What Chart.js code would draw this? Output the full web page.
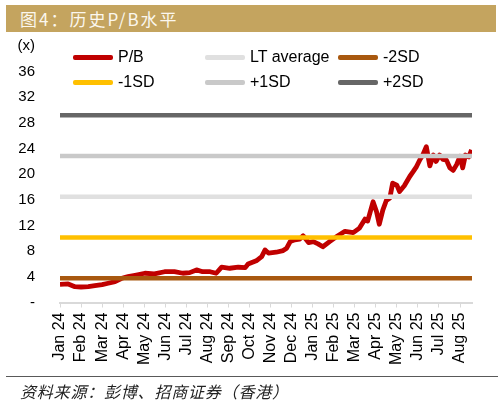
<!DOCTYPE html>
<html>
<head>
<meta charset="utf-8">
<script src="https://cdn.jsdelivr.net/npm/chart.js@4.4.1/dist/chart.umd.min.js"></script>
<style>
    body { margin: 0; background: #fff; font-family: "Liberation Sans", Arial, sans-serif; }
    #wrap { position: relative; width: 502px; height: 402px; overflow: hidden; }
    #chart { position: absolute; left: 0; top: 0; }
    #title {
        position: absolute; left: 6px; top: 5px; width: 490px; height: 27px;
        background: #c4a45f; color: #fbf7ee; font-family: "Noto Sans CJK SC", sans-serif;
        font-size: 17px; line-height: 27px; letter-spacing: 2px; padding-left: 14px; box-sizing: border-box;
    }
    #legend { position: absolute; left: 0; top: 0; width: 502px; height: 100px; pointer-events: none; }
    .item { position: absolute; height: 20px; font-size: 16px; line-height: 20px; color: #000; white-space: nowrap; }
    .item .swatch { position: absolute; left: 0; top: 8px; width: 40px; height: 4.5px; border-radius: 2px; }
    .item .label { position: absolute; left: 45px; top: 0; }
    #footer {
        position: absolute; left: 6px; top: 376px; width: 492px; border-top: 1.5px solid #595959;
        font-family: "Noto Sans CJK SC", sans-serif; font-style: italic; font-size: 16px; letter-spacing: 0.8px;
        color: #222; padding: 2px 0 0 14px; box-sizing: border-box;
    }
</style>
</head>
<body>
<div id="wrap">
    <canvas id="chart" width="502" height="402"></canvas>
    <div id="title">图4：历史P/B水平</div>
    <div id="legend"></div>
    <div id="footer">资料来源：彭博、招商证券（香港）</div>
</div>
<script>
const monthLabels = ['Jan 24', 'Feb 24', 'Mar 24', 'Apr 24', 'May 24', 'Jun 24', 'Jul 24', 'Aug 24', 'Sep 24', 'Oct 24',
    'Nov 24', 'Dec 24', 'Jan 25', 'Feb 25', 'Mar 25', 'Apr 25', 'May 25', 'Jun 25', 'Jul 25', 'Aug 25'];

const pbDates = ['2024-01-01', '2024-01-13', '2024-01-23', '2024-02-01', '2024-02-11', '2024-02-20', '2024-03-01',
    '2024-03-10', '2024-03-20', '2024-03-30', '2024-04-08', '2024-04-18', '2024-05-02', '2024-05-16', '2024-05-31',
    '2024-06-14', '2024-06-26', '2024-07-06', '2024-07-16', '2024-07-25', '2024-08-05', '2024-08-14', '2024-08-22',
    '2024-09-03', '2024-09-15', '2024-09-25', '2024-09-29', '2024-10-11', '2024-10-19', '2024-10-24', '2024-10-29',
    '2024-11-09', '2024-11-19', '2024-11-24', '2024-11-29', '2024-12-06', '2024-12-13', '2024-12-18', '2024-12-26',
    '2025-01-02', '2025-01-09', '2025-01-16', '2025-01-26', '2025-02-04', '2025-02-16', '2025-02-27', '2025-03-08',
    '2025-03-16', '2025-03-20', '2025-03-28', '2025-04-02', '2025-04-06', '2025-04-11', '2025-04-16', '2025-04-21',
    '2025-04-25', '2025-05-01', '2025-05-05', '2025-05-12', '2025-05-20', '2025-05-25', '2025-05-30', '2025-06-04',
    '2025-06-08', '2025-06-13', '2025-06-18', '2025-06-23', '2025-06-27', '2025-07-02', '2025-07-07', '2025-07-12',
    '2025-07-17', '2025-07-22', '2025-07-27', '2025-08-01', '2025-08-05', '2025-08-09', '2025-08-14', '2025-08-18'];

const pbValues = [2.84, 2.9, 2.47, 2.42, 2.47, 2.63, 2.78,
    3.0, 3.25, 3.78, 4.03, 4.25, 4.56, 4.45, 4.8,
    4.8, 4.56, 4.66, 5.08, 4.8, 4.8, 4.56, 5.5,
    5.34, 5.5, 5.44, 6.0, 6.5, 7.16, 8.2, 7.7,
    7.84, 8.1, 8.47, 9.5, 9.77, 9.88, 10.4, 9.35,
    9.5, 9.14, 8.7, 9.5, 10.2, 11.1, 10.9, 11.6,
    13.0, 12.7, 15.7, 14.2, 12.2, 14.4, 15.9, 16.3,
    18.6, 18.3, 17.3, 18.2, 19.65, 20.4, 21.2, 22.3,
    23.0, 24.3, 21.3, 23.0, 22.0, 23.0, 22.3, 22.2,
    21.0, 20.6, 21.5, 22.8, 21.0, 23.0, 22.7, 23.8];

const bandNames = ['LT average', '-2SD', '-1SD', '+1SD', '+2SD'];
const bandValues = [16.5, 3.8, 10.15, 22.85, 29.2];
const bandColors = ['#e0e0e0', '#a8580f', '#ffc000', '#c9c9c9', '#666666'];

const yTicks = [0, 4, 8, 12, 16, 20, 24, 28, 32, 36, 40];
const xEnd = 19.57;

function monthPos(s) {
    const [y, m, d] = s.split('-').map(Number);
    const dim = new Date(y, m, 0).getDate();
    return (y - 2024) * 12 + (m - 1) + (d - 1) / dim;
}

const pbPoints = pbDates.map((d, i) => ({ x: monthPos(d), y: pbValues[i] }));

const datasets = [{
    label: 'P/B',
    data: pbPoints,
    borderColor: '#c00000',
    borderWidth: 4.8,
    borderJoinStyle: 'round',
    pointRadius: 0,
    order: 1
}];
bandNames.forEach((name, i) => {
    datasets.push({
        label: name,
        data: [{ x: 0, y: bandValues[i] }, { x: xEnd, y: bandValues[i] }],
        borderColor: bandColors[i],
        borderWidth: 4.5,
        pointRadius: 0,
        order: 0
    });
});

const chart = new Chart(document.getElementById('chart'), {
    type: 'line',
    data: { datasets },
    options: {
        responsive: false,
        animation: false,
        layout: { padding: { left: 0, right: 30, top: 46, bottom: 30 } },
        plugins: { legend: { display: false }, tooltip: { enabled: false } },
        scales: {
            x: {
                type: 'linear',
                min: 0,
                max: xEnd,
                afterBuildTicks: (scale) => {
                    scale.ticks = monthLabels.map((_, i) => ({ value: i }));
                },
                afterFit: (scale) => { scale.height = 69.5; },
                grid: { display: true, drawOnChartArea: false, drawTicks: true, tickLength: 5, color: '#d9d9d9', lineWidth: 1 },
                border: { display: true, color: '#d9d9d9', width: 2 },
                ticks: {
                    autoSkip: false,
                    minRotation: 90,
                    maxRotation: 90,
                    padding: 5,
                    color: '#000',
                    font: { family: 'Liberation Sans', size: 16 },
                    callback: (value) => monthLabels[Math.round(value)]
                }
            },
            y: {
                min: 0,
                max: 40,
                afterBuildTicks: (scale) => {
                    scale.ticks = yTicks.map(v => ({ value: v }));
                },
                afterFit: (scale) => { scale.width = 60; },
                grid: { display: false },
                border: { display: false },
                ticks: {
                    padding: 17,
                    color: '#000',
                    font: { family: 'Liberation Sans', size: 15 },
                    callback: (value) => value === 0 ? '-' : (value === 40 ? '(x)' : value)
                }
            }
        }
    }
});

// legend laid out in three fixed columns, like the original
const legendOrder = ['P/B', 'LT average', '-2SD', '-1SD', '+1SD', '+2SD'];
const colLeft = [73, 205, 338];
const rowTop = [47, 72];
const legendBox = document.getElementById('legend');
legendOrder.forEach((name, i) => {
    const ds = chart.data.datasets.find(d => d.label === name);
    const div = document.createElement('div');
    div.className = 'item';
    div.style.left = colLeft[i % 3] + 'px';
    div.style.top = rowTop[Math.floor(i / 3)] + 'px';
    div.innerHTML = `<span class="swatch" style="background:${ds.borderColor}"></span><span class="label">${name}</span>`;
    legendBox.appendChild(div);
});
</script>
</body>
</html>
